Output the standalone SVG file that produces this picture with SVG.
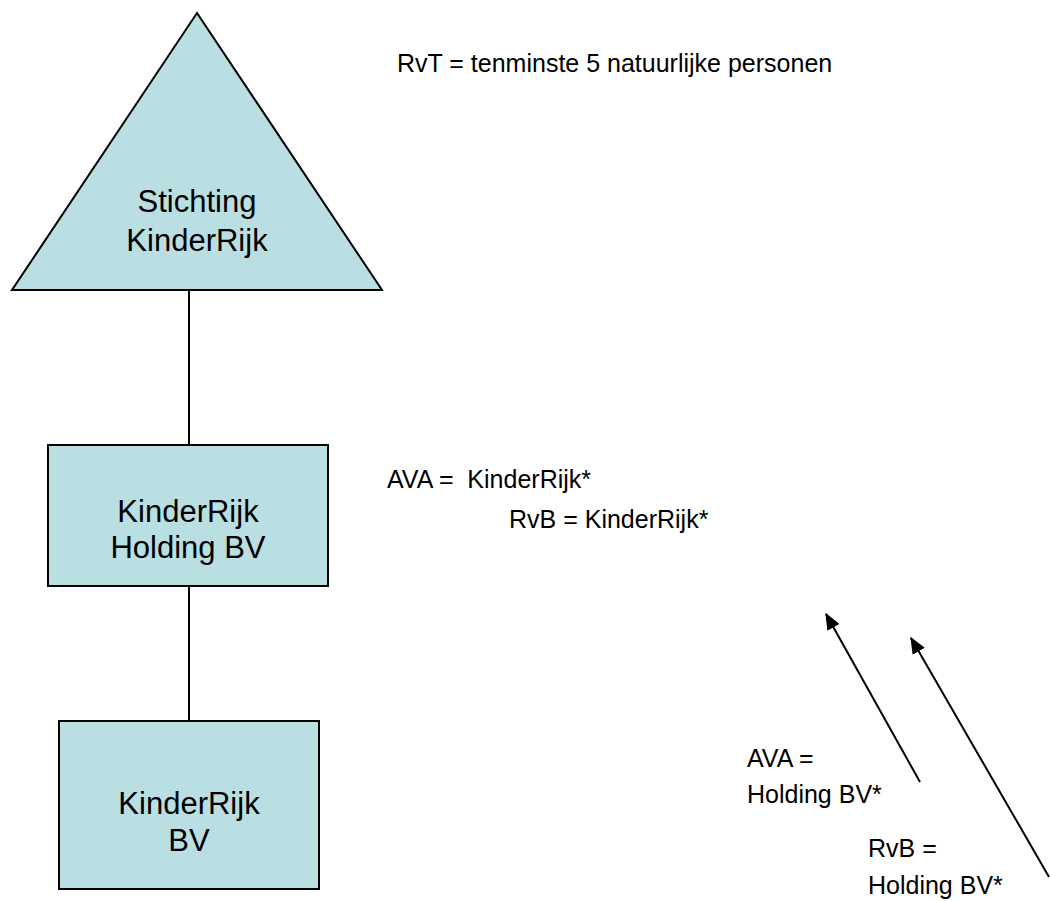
<svg xmlns="http://www.w3.org/2000/svg" width="1050" height="901" viewBox="0 0 1050 901">
<defs>
<style>
.node{fill:#B9DFE3;stroke:#000;stroke-width:2}
.nt{font-family:"Liberation Sans",Arial,sans-serif;font-size:31px;fill:#000;text-anchor:middle}
.lt{font-family:"Liberation Sans",Arial,sans-serif;font-size:25px;fill:#000}
.conn{stroke:#000;stroke-width:2;fill:none}
</style>
<marker id="arrow" viewBox="0 0 12 10" refX="11" refY="5" markerWidth="17" markerHeight="14" orient="auto" markerUnits="userSpaceOnUse">
<path d="M0,0 L12,5 L0,10 z" fill="#000"/>
</marker>
</defs>
<rect width="1050" height="901" fill="#fff"/>
<g id="connectors">
<line class="conn" x1="189" y1="290" x2="189" y2="445"/>
<line class="conn" x1="189" y1="586" x2="189" y2="721"/>
<line class="conn" x1="920" y1="782" x2="826" y2="614" marker-end="url(#arrow)"/>
<line class="conn" x1="1049" y1="877" x2="911" y2="638" marker-end="url(#arrow)"/>
</g>
<g id="stichting">
<polygon class="node" points="197,13 12,290 382,290"/>
<text class="nt" x="197" y="212">Stichting</text>
<text class="nt" x="197" y="251">KinderRijk</text>
</g>
<g id="holding">
<rect class="node" x="48" y="445" width="280" height="141"/>
<text class="nt" x="188" y="522">KinderRijk</text>
<text class="nt" x="188" y="558">Holding BV</text>
</g>
<g id="kinderrijkbv">
<rect class="node" x="59" y="721" width="260" height="168"/>
<text class="nt" x="189" y="814">KinderRijk</text>
<text class="nt" x="189" y="851">BV</text>
</g>
<g id="labels">
<text class="lt" x="397" y="72">RvT = tenminste 5 natuurlijke personen</text>
<text class="lt" x="387" y="488" xml:space="preserve">AVA =  KinderRijk*</text>
<text class="lt" x="509" y="528">RvB = KinderRijk*</text>
<text class="lt" x="747" y="767">AVA =</text>
<text class="lt" x="747" y="803">Holding BV*</text>
<text class="lt" x="868" y="857">RvB =</text>
<text class="lt" x="868" y="894">Holding BV*</text>
</g>
</svg>
